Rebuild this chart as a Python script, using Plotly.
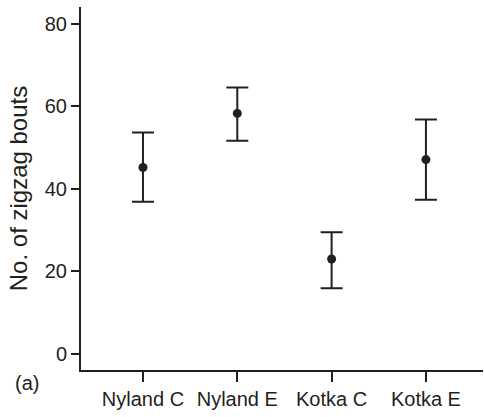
import plotly.graph_objects as go

categories = ["Nyland C", "Nyland E", "Kotka C", "Kotka E"]
means = [45.2, 58.3, 23.0, 47.1]
upper = [53.7, 64.6, 29.5, 56.8]
lower = [36.9, 51.7, 15.9, 37.4]
y_ticks = [0, 20, 40, 60, 80]

err_plus = [u - m for u, m in zip(upper, means)]
err_minus = [m - l for m, l in zip(means, lower)]

ink = "#231f20"
font_family = "Liberation Sans, Arial, Helvetica, sans-serif"

W, H = 484, 417
ML, MR, MT, MB = 81, 1, 7, 47

fig = go.Figure(go.Scatter(
    x=list(range(len(categories))),
    y=means,
    mode="markers",
    marker=dict(color=ink, size=9, symbol="circle"),
    error_y=dict(type="data", symmetric=False, array=err_plus, arrayminus=err_minus,
                 color=ink, thickness=2, width=11),
    showlegend=False,
))

plot_w = W - ML - MR
plot_h = H - MT - MB

fig.update_layout(
    width=W, height=H,
    margin=dict(l=ML, r=MR, t=MT, b=MB),
    paper_bgcolor="white", plot_bgcolor="white",
    font=dict(family=font_family, color=ink, size=20),
    xaxis=dict(
        range=[-0.657, 3.605],
        tickmode="array", tickvals=list(range(len(categories))), ticktext=categories,
        showline=True, linecolor=ink, linewidth=2,
        ticks="outside", ticklen=10, tickwidth=2, tickcolor=ink,
        showgrid=False, zeroline=False,
        tickfont=dict(size=20),
    ),
    yaxis=dict(
        range=[-3.9, 84.1],
        tickmode="array", tickvals=y_ticks,
        showline=True, linecolor=ink, linewidth=2,
        ticks="outside", ticklen=8, tickwidth=2, tickcolor=ink,
        showgrid=False, zeroline=False,
        tickfont=dict(size=20),
        title=dict(text="No. of zigzag bouts", font=dict(size=24), standoff=10),
    ),
    annotations=[dict(text="(a)", showarrow=False, font=dict(size=20),
                      xref="paper", yref="paper",
                      x=(27 - ML) / plot_w, y=(H - MB - 383) / plot_h,
                      xanchor="center", yanchor="middle")],
)

fig.write_html("out.html", config={"displayModeBar": False},
               post_script="document.body.style.margin='0';")
